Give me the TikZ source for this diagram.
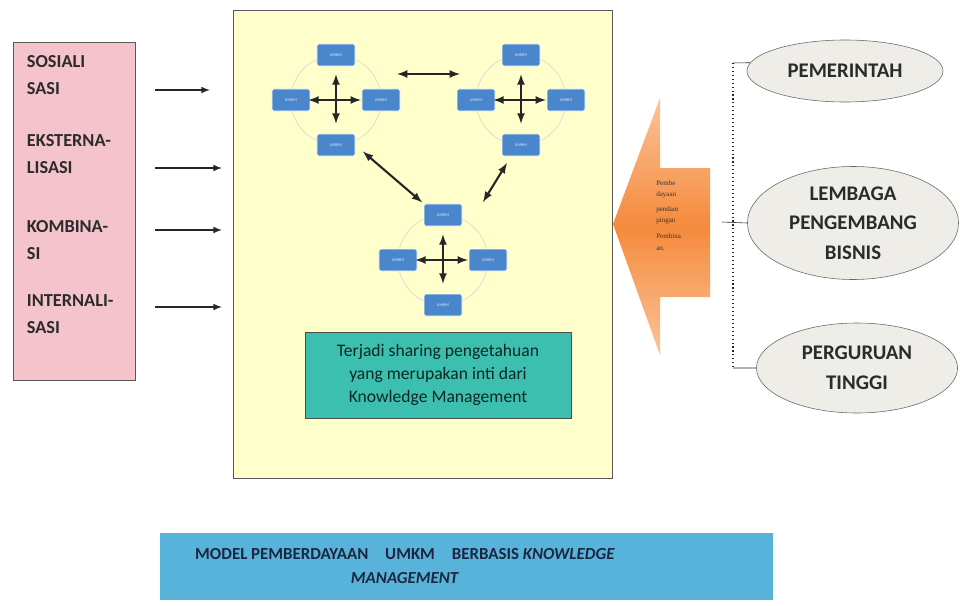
\documentclass[tikz,border=0pt]{standalone}
\usepackage{fontspec}
\setmainfont{Carlito}
\newfontfamily\kecil{Liberation Serif}
\usepackage{tikz}
\usetikzlibrary{arrows, shapes.geometric, positioning}

\definecolor{merahmuda}{HTML}{F4C3CB}
\definecolor{kuning}{HTML}{FFFFCC}
\definecolor{biru}{HTML}{4A86CC}
\definecolor{tosca}{HTML}{3CBFAE}
\definecolor{oranye}{HTML}{F58A3C}
\definecolor{oranyemuda}{HTML}{FBC49A}
\definecolor{abu}{HTML}{EEEDE8}
\definecolor{langit}{HTML}{58B3DA}
\definecolor{gelap}{HTML}{2B2B2B}
\definecolor{navy}{HTML}{1D2640}

\begin{document}
\begin{tikzpicture}[x=0.025cm, y=-0.025cm,
	umkm/.style={draw=white, fill=biru, rounded corners=1.5pt, minimum width=0.95cm, minimum height=0.55cm, inner sep=0pt, text=white!85!biru, font=\fontsize{3}{3}\selectfont},
	tahap/.style={anchor=west, align=left, text=gelap, font=\fontsize{13}{19}\selectfont\bfseries},
	mitra/.style={ellipse, draw=gray!80!black, fill=abu, inner sep=0pt, align=center, text=gelap, font=\fontsize{14.8}{21}\selectfont\bfseries},
	bina/.style={anchor=west, align=left, inner sep=0pt, text=black!80, font=\kecil\fontsize{5}{8}\selectfont},
	panah/.style={-latex, line width=1.1pt, black!85},
	dua/.style={latex-latex, line width=1.5pt, black!85}]
	\useasboundingbox (0,0) rectangle (960,605);
	% kotak utama
	\node[draw=gray!70!black, fill=merahmuda, minimum width=3.05cm, minimum height=8.45cm] (spiral) at (74,211) {};
	\node[draw=gray!70!black, fill=kuning, minimum width=9.475cm, minimum height=11.7cm] (ruang) at (422.5,244) {};
	\node[tahap] (sos) at (22,75) {SOSIALI\\SASI};
	\node[tahap] (eks) at (22,154) {EKSTERNA-\\LISASI};
	\node[tahap] (kom) at (22,240) {KOMBINA-\\SI};
	\node[tahap] (int) at (22,314) {INTERNALI-\\SASI};
	\coordinate (sos1) at (155,90);  \coordinate (sos2) at (210,90);
	\coordinate (eks1) at (155,168); \coordinate (eks2) at (222,168);
	\coordinate (kom1) at (155,230); \coordinate (kom2) at (222,230);
	\coordinate (int1) at (155,307); \coordinate (int2) at (222,307);
	\draw[panah] (sos1) -- (sos2);
	\draw[panah] (eks1) -- (eks2);
	\draw[panah] (kom1) -- (kom2);
	\draw[panah] (int1) -- (int2);
	% kelompok umkm
	\foreach \k/\cx/\cy in {a/336/100, b/521/100, c/443/260} {
		\draw[gray!35, thin] (\cx,\cy) circle (1.125cm);
		\node[umkm] (\k-t) at (\cx,\cy-45) {UMKM};
		\node[umkm] (\k-l) at (\cx-45,\cy) {UMKM};
		\node[umkm] (\k-r) at (\cx+45,\cy) {UMKM};
		\node[umkm] (\k-b) at (\cx,\cy+45) {UMKM};
		\draw[dua, shorten <=0.2cm, shorten >=0.25cm] (\k-t) -- (\k-b);
		\draw[dua, shorten <=-0.05cm, shorten >=0.02cm] (\k-l) -- (\k-r);
	}
	\coordinate (ab1) at (397,74); \coordinate (ab2) at (460,74);
	\coordinate (bc1) at (507,163); \coordinate (bc2) at (483,202);
	\draw[dua] (ab1) -- (ab2);
	\draw[dua, shorten <=0.25cm, shorten >=0.05cm] (a-b.east) -- (c-t.north west);
	\draw[dua] (bc1) -- (bc2);
	\node[draw=gray!60!black, fill=tosca, minimum width=6.65cm, minimum height=2.15cm, align=center, text=black!80!tosca, font=\fontsize{12.5}{16.5}\selectfont] (km) at (438,375) {Terjadi sharing pengetahuan\\yang merupakan inti dari\\Knowledge Management};
	% panah pemberdayaan
	\shade[top color=oranyemuda, bottom color=oranyemuda, middle color=oranye] (613,224) -- (660,98) -- (660,168) -- (710,168) -- (710,297) -- (660,297) -- (660,355) -- cycle;
	\node[bina] (p1) at (656,189) {Pembe\\dayaan};
	\node[bina] (p2) at (656,215) {pendam\\pingan};
	\node[bina] (p3) at (656,242) {Pembina\\an.};
	% mitra
	\node[mitra, minimum width=4.9cm, minimum height=1.55cm] (pem) at (845,71) {PEMERINTAH};
	\node[mitra, minimum width=5.275cm, minimum height=2.825cm] (lem) at (853,223) {LEMBAGA\\PENGEMBANG\\BISNIS};
	\node[mitra, minimum width=5.025cm, minimum height=2.25cm] (per) at (857,368) {PERGURUAN\\TINGGI};
	\coordinate (dtop) at (733,63);
	\coordinate (dmid) at (722,222);
	\coordinate (dbot) at (733,368);
	\draw[gray!30!black] (pem.175) -- (dtop)
			(dmid) -- (lem.west)
			(per.west) -- (dbot);
	\draw[gray!30!black, dotted, thick] (dtop) -- (dbot);
	% judul
	\node[fill=langit, minimum width=15.325cm, minimum height=1.675cm] (judul) at (466.5,566.5) {};
	\node[align=center, text=navy, font=\fontsize{12}{17.5}\selectfont\bfseries] (teks) at (405,566) {MODEL PEMBERDAYAAN\quad UMKM\quad BERBASIS \textit{KNOWLEDGE}\\\textit{MANAGEMENT}};
\end{tikzpicture}
\end{document}
